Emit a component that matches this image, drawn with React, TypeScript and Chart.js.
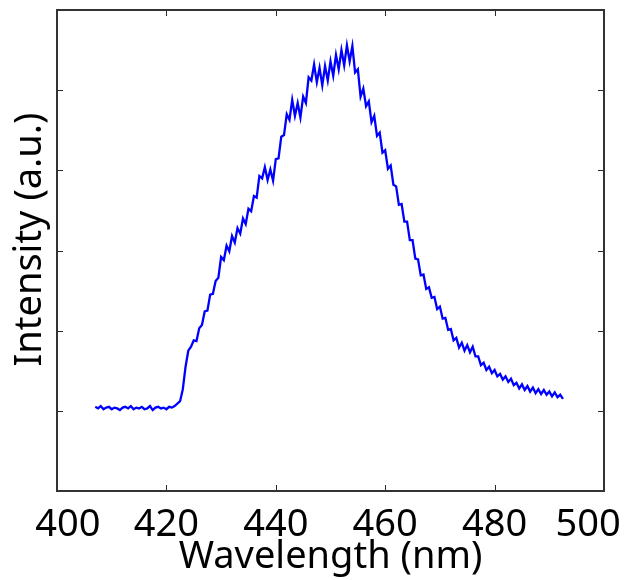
import React, { useEffect, useRef } from "react";
import { Chart, registerables } from "chart.js";

Chart.register(...registerables);

// Wavelength grid (nm) of the spectrum samples
const WAVELENGTH_START = 407;
const WAVELENGTH_STEP = 0.5;

// Intensity (a.u.), one value per sample
const INTENSITY_BASELINE = [
  0.05, 0.03, 0.06, 0.02, 0.04, 0.05, 0.02, 0.04, 0.03, 0.01,
  0.04, 0.05, 0.03, 0.06, 0.02, 0.04, 0.03, 0.05, 0.02, 0.03,
  0.06, 0.01, 0.04, 0.05, 0.03, 0.04, 0.02, 0.05, 0.04,
];
const INTENSITY_ONSET = [
  0.06, 0.09, 0.12, 0.27, 0.55, 0.75, 0.8, 0.88, 0.87, 1.03, 1.07, 1.24, 1.25, 1.45,
];
const INTENSITY_RISE = [
  1.46, 1.62, 1.66, 1.92, 1.88, 2.06, 1.99, 2.18, 2.1, 2.28,
  2.21, 2.4, 2.33, 2.52, 2.49, 2.68, 2.66, 2.93, 2.9, 3.04,
  2.88, 3.01, 2.87, 3.14, 3.15, 3.42, 3.44, 3.7, 3.63, 3.88,
  3.68, 3.84, 3.66, 3.92, 3.84, 4.16, 4.12, 4.32, 4.1, 4.28,
  4.06, 4.3, 4.12, 4.36, 4.18, 4.44, 4.26, 4.5, 4.31, 4.56,
  4.36, 4.55,
];
const INTENSITY_FALL = [
  4.22, 4.26, 3.92, 4.02, 3.8, 3.86, 3.6, 3.68, 3.43, 3.47,
  3.22, 3.25, 3.02, 3.06, 2.82, 2.8, 2.57, 2.58, 2.36, 2.36,
  2.13, 2.13, 1.9, 1.89, 1.69, 1.7, 1.52, 1.54, 1.41, 1.42,
  1.27, 1.3, 1.15, 1.16, 1.01, 1.02, 0.88, 0.91, 0.79, 0.85,
  0.75, 0.82, 0.73, 0.8, 0.68, 0.68, 0.57, 0.6, 0.51, 0.55,
  0.47, 0.51, 0.43, 0.46, 0.39, 0.43, 0.36, 0.4, 0.32, 0.35,
  0.28, 0.33, 0.26, 0.31, 0.24, 0.29, 0.22, 0.27, 0.21, 0.26,
  0.2, 0.24, 0.18, 0.23, 0.17, 0.2, 0.15,
];

const X_TICK_VALUES = [400, 420, 440, 460, 480, 500];
const X_TICK_LABELS = ["\u2007400", "420", "440", "460", "480", "500\u2007 "];
const Y_TICK_VALUES = [0, 1, 2, 3, 4];
const X_MIN = 400;
const X_MAX = 500;
const Y_MIN = -1;
const Y_MAX = 5;

const FONT = "'Noto Sans', 'DejaVu Sans', sans-serif";

const framePlugin = {
  id: "frameTicks",
  afterDatasetsDraw(chart: any) {
    const { ctx, chartArea, scales } = chart;
    const { left, right, top, bottom } = chartArea;
    const x = scales.x;
    const y = scales.y;
    const len = 6;
    ctx.save();
    ctx.strokeStyle = "#2b2b2b";
    ctx.lineWidth = 1;
    ctx.beginPath();
    for (const v of X_TICK_VALUES) {
      if (v <= X_MIN || v >= X_MAX) continue;
      const px = Math.round(x.getPixelForValue(v)) + 0.5;
      ctx.moveTo(px, bottom);
      ctx.lineTo(px, bottom - len);
      ctx.moveTo(px, top);
      ctx.lineTo(px, top + len);
    }
    for (const v of Y_TICK_VALUES) {
      const py = Math.round(y.getPixelForValue(v)) + 0.5;
      ctx.moveTo(left, py);
      ctx.lineTo(left + len, py);
      ctx.moveTo(right, py);
      ctx.lineTo(right - len, py);
    }
    ctx.stroke();
    ctx.lineWidth = 2;
    ctx.strokeStyle = "#333333";
    ctx.strokeRect(left, top, right - left, bottom - top);
    ctx.restore();
  },
};

export default function App() {
  const canvasRef = useRef<HTMLCanvasElement | null>(null);

  useEffect(() => {
    document.body.style.margin = "0";
    const canvas = canvasRef.current;
    if (!canvas) return;
    const intensity = [
      ...INTENSITY_BASELINE,
      ...INTENSITY_ONSET,
      ...INTENSITY_RISE,
      ...INTENSITY_FALL,
    ];
    const points = intensity.map((v, i) => ({
      x: WAVELENGTH_START + i * WAVELENGTH_STEP,
      y: v,
    }));

    const chart = new Chart(canvas, {
      type: "line",
      data: {
        datasets: [
          {
            data: points,
            borderColor: "#0000ff",
            borderWidth: 2.3,
            borderJoinStyle: "miter",
            pointRadius: 0,
            tension: 0,
            fill: false,
          },
        ],
      },
      options: {
        animation: false,
        responsive: false,
        maintainAspectRatio: false,
        events: [],
        layout: { padding: { top: 10, right: 22, left: 0, bottom: 0 } },
        plugins: {
          legend: { display: false },
          tooltip: { enabled: false },
        },
        scales: {
          x: {
            type: "linear",
            min: X_MIN,
            max: X_MAX,
            afterBuildTicks: (scale: any) => {
              scale.ticks = X_TICK_VALUES.map((v) => ({ value: v }));
            },
            afterFit: (scale: any) => {
              scale.height = 89;
              scale.paddingLeft = 0;
              scale.paddingRight = 0;
            },
            grid: { display: false, drawTicks: false, tickLength: 0 },
            border: { display: false },
            ticks: {
              autoSkip: false,
              maxRotation: 0,
              minRotation: 0,
              padding: 11,
              color: "#000000",
              font: { family: FONT, size: 38 },
              callback: (value: any) => {
                const idx = X_TICK_VALUES.indexOf(Number(value));
                return idx >= 0 ? X_TICK_LABELS[idx] : "";
              },
            },
            title: {
              display: true,
              text: "Wavelength (nm)",
              color: "#000000",
              font: { family: FONT, size: 38 },
              padding: { top: 0, bottom: 0 },
            },
          },
          y: {
            type: "linear",
            min: Y_MIN,
            max: Y_MAX,
            afterBuildTicks: (scale: any) => {
              scale.ticks = Y_TICK_VALUES.map((v) => ({ value: v }));
            },
            afterFit: (scale: any) => {
              scale.width = 57;
            },
            grid: { display: false, drawTicks: false, tickLength: 0 },
            border: { display: false },
            ticks: { display: false },
            title: {
              display: true,
              text: "\u2007Intensity (a.u.)",
              color: "#000000",
              font: { family: FONT, size: 38 },
              padding: { top: 7, bottom: 0 },
            },
          },
        },
      },
      plugins: [framePlugin],
    });

    return () => chart.destroy();
  }, []);

  return (
    <div style={{ width: 626, height: 580 }}>
      <canvas
        ref={canvasRef}
        width={626}
        height={580}
        style={{ display: "block", width: 626, height: 580 }}
      />
    </div>
  );
}
